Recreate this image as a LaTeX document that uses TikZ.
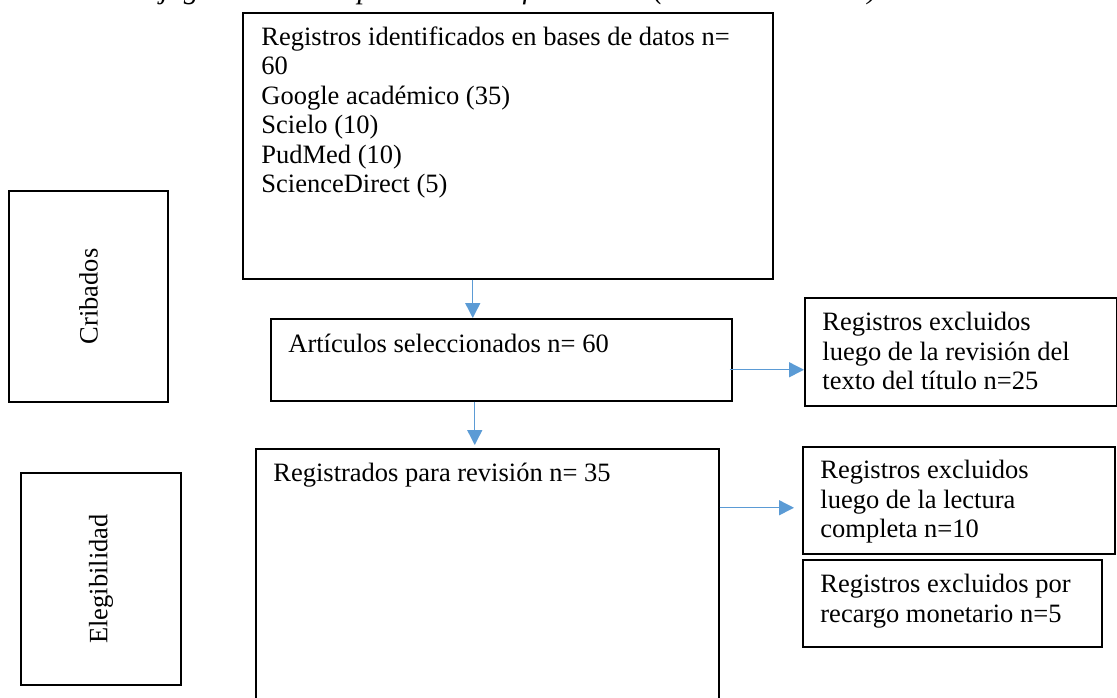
\documentclass[tikz,border=0pt]{standalone}
\usepackage{fontspec}
\setmainfont{Liberation Serif}
\usepackage{xcolor}
\usetikzlibrary{arrows.meta}
\definecolor{azul}{HTML}{5B9BD5}
\tikzset{
    caja/.style={draw, rectangle, line width=0.75pt, inner sep=0pt, anchor=north west},
    etapa/.style={draw, rectangle, line width=1.25pt, inner sep=0pt, rotate=90, font=\fontsize{13.25}{14.75}\selectfont},
    texto/.style={inner sep=0pt, anchor=north west, align=left, font=\fontsize{13.25}{14.75}\selectfont},
    flecha/.style={azul, line width=0.7pt, -{Triangle[length=7.5pt, width=7.5pt]}}
}

\begin{document}
\begin{tikzpicture}[x=0.5pt, y=-0.5pt]
        \useasboundingbox (0,0) rectangle (1117,697);
        \node (titulo) at (878,-2) [anchor=base east, inner sep=0pt, font=\fontsize{15}{18}\selectfont\itshape] {Flujograma de recopilación de información (Método PRISMA)};
        \node (cribados) at (88.5,296.5) [etapa, minimum width=105.5pt, minimum height=79.5pt] {Cribados};
        \node (elegibilidad) at (101,579) [etapa, minimum width=106pt, minimum height=80pt] {Elegibilidad};
        \node (ident) at (242,12) [caja, minimum width=265pt, minimum height=133pt] {};
        \node (selec) at (270,318) [caja, minimum width=230.5pt, minimum height=41pt] {};
        \node (regis) at (255,448) [caja, minimum width=231.5pt, minimum height=130pt] {};
        \node (excl1) at (804,297) [caja, minimum width=156pt, minimum height=54pt] {};
        \node (excl2) at (802,446) [caja, minimum width=156pt, minimum height=53.5pt] {};
        \node (excl3) at (802,559) [caja, minimum width=149.5pt, minimum height=43.5pt] {};
        \node (identtxt) at (261,26) [texto] {Registros identificados en bases de datos n=\\60\\Google académico (35)\\Scielo (10)\\PudMed (10)\\ScienceDirect (5)};
        \node (selectxt) at (288,334) [texto] {Artículos seleccionados n= 60};
        \node (registxt) at (273,463) [texto] {Registrados para revisión n= 35};
        \node (excl1txt) at (822,312) [texto] {Registros excluidos\\luego de la revisión del\\texto del título n=25};
        \node (excl2txt) at (820,460) [texto] {Registros excluidos\\luego de la lectura\\completa n=10};
        \node (excl3txt) at (820,574) [texto] {Registros excluidos por\\recargo monetario n=5};
        \draw [flecha] ([xshift=-17.5pt]ident.south) -- ([xshift=-14.25pt]selec.north);
        \draw [flecha, shorten >=1.5pt] ([xshift=-13.25pt]selec.south) -- ([xshift=-6.25pt]regis.north);
        \draw [flecha] ([shift={(-1.5pt,-5pt)}]selec.east) coordinate (a1) -- (a1 -| excl1.west);
        \draw [flecha, shorten >=4pt] ([yshift=35.5pt]regis.east) coordinate (a2) -- (a2 -| excl2.west);
    \end{tikzpicture}
\end{document}
